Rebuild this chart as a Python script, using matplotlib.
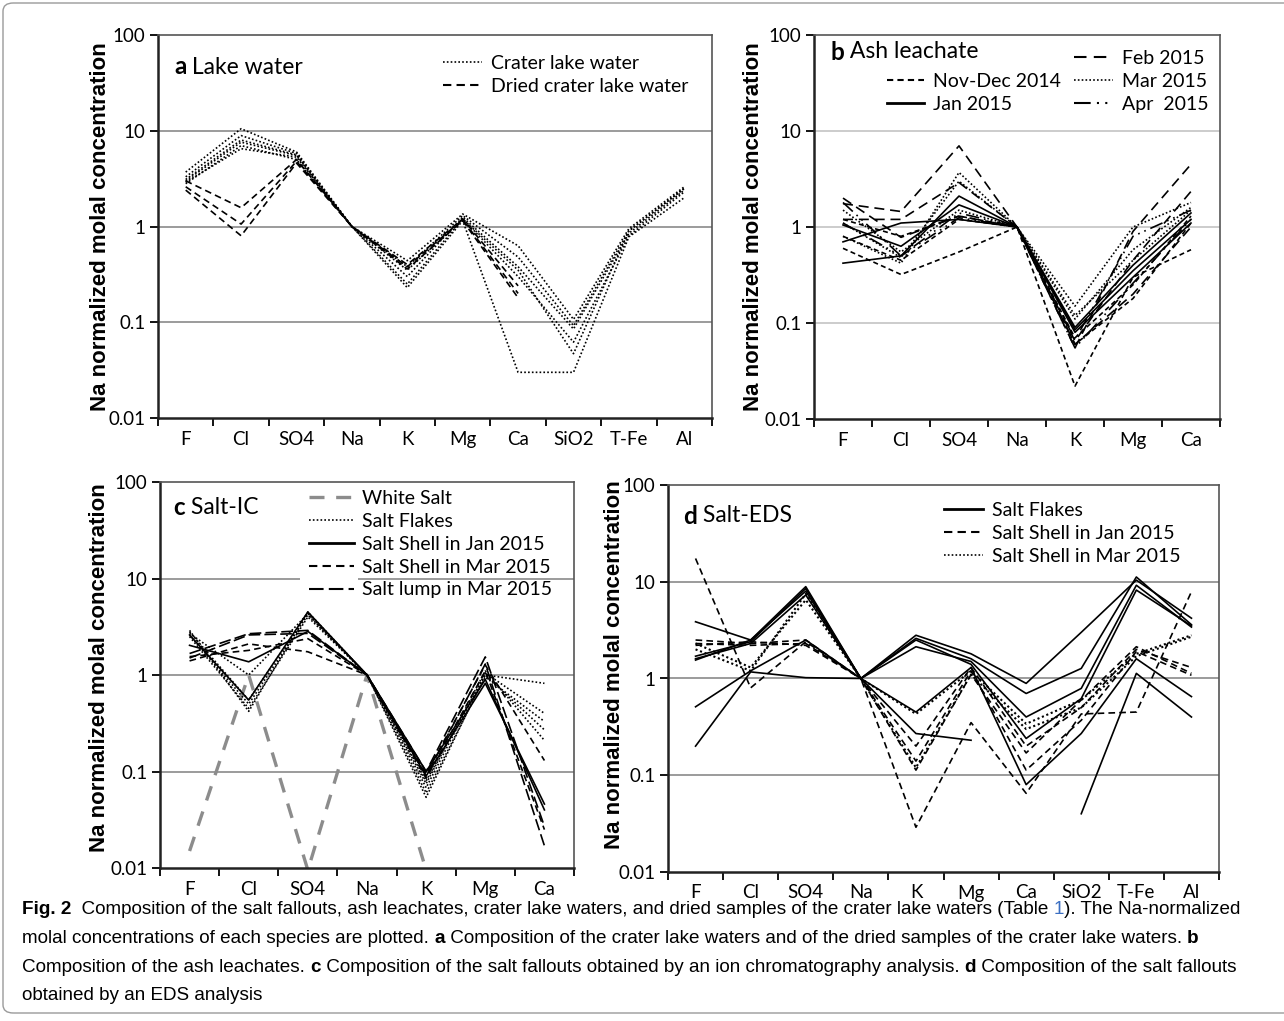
import numpy as np
import matplotlib
matplotlib.use('Agg')
import matplotlib.pyplot as plt
from matplotlib.lines import Line2D
from matplotlib.patches import FancyBboxPatch, Rectangle
from matplotlib.ticker import NullLocator

nan = np.nan

# ---------------------------------------------------------------- data
# a : lake water (10 species)
ions_a = ['F', 'Cl', 'SO4', 'Na', 'K', 'Mg', 'Ca', 'SiO2', 'T-Fe', 'Al']
crater_lake = [
    [3.7, 10.5, 6.0, 1, 0.44, 1.35, 0.63, 0.107, 0.95, 2.6],
    [3.3, 8.9, 5.8, 1, 0.38, 1.30, 0.48, 0.092, 0.90, 2.5],
    [3.0, 7.6, 5.5, 1, 0.30, 1.25, 0.38, 0.085, 0.85, 2.4],
    [2.9, 6.5, 5.3, 1, 0.25, 1.20, 0.30, 0.062, 0.80, 2.3],
    [2.8, 7.0, 5.0, 1, 0.23, 1.15, 0.03, 0.030, 0.78, 2.0],
    [3.1, 8.0, 5.6, 1, 0.35, 1.20, 0.35, 0.047, 0.90, 2.5],
]
dried_lake = [
    [3.0, 1.57, 5.0, 1, 0.40, 1.20, 0.24, nan, nan, nan],
    [2.6, 1.06, 4.8, 1, 0.38, 1.18, 0.20, nan, nan, nan],
    [2.4, 0.80, 4.6, 1, 0.36, 1.15, 0.18, nan, nan, nan],
]

# b : ash leachate (7 species)
ions_b = ['F', 'Cl', 'SO4', 'Na', 'K', 'Mg', 'Ca']
ash_novdec = [
    [0.60, 0.32, 0.55, 1, 0.022, 0.30, 0.58],
    [1.20, 0.80, 1.30, 1, 0.060, 0.18, 1.10],
    [0.80, 0.45, 1.20, 1, 0.070, 0.25, 1.30],
]
ash_jan = [
    [0.42, 0.50, 2.10, 1, 0.090, 0.40, 1.40],
    [0.70, 1.10, 1.20, 1, 0.085, 0.35, 1.20],
    [1.05, 0.63, 1.70, 1, 0.080, 0.30, 1.10],
]
ash_feb = [
    [1.75, 1.45, 7.00, 1, 0.055, 0.90, 4.50],
    [1.20, 1.20, 2.90, 1, 0.065, 0.45, 2.35],
    [2.00, 0.78, 1.30, 1, 0.060, 0.20, 1.00],
]
ash_mar = [
    [0.80, 0.42, 3.70, 1, 0.150, 1.00, 1.80],
    [1.10, 0.48, 3.00, 1, 0.110, 0.58, 1.60],
    [1.50, 0.55, 1.50, 1, 0.120, 0.45, 1.50],
]
ash_apr = [
    [1.80, 0.50, 1.40, 1, 0.067, 0.80, 1.50],
    [1.10, 0.50, 1.25, 1, 0.055, 0.26, 1.20],
]

# c : salt, ion chromatography (7 species)
ions_c = ['F', 'Cl', 'SO4', 'Na', 'K', 'Mg', 'Ca']
white_salt = [[0.015, 1.0, 0.0095, 1, 0.0095, nan, nan]]
ic_flakes = [
    [2.9, 0.42, 4.5, 1, 0.054, 1.00, 0.82],
    [2.7, 1.00, 4.3, 1, 0.068, 1.05, 0.40],
    [2.8, 0.55, 4.4, 1, 0.060, 0.95, 0.33],
    [2.6, 0.50, 4.2, 1, 0.075, 1.10, 0.21],
    [2.5, 0.45, 4.0, 1, 0.080, 1.00, 0.27],
]
ic_shell_jan = [
    [2.03, 1.37, 2.83, 1, 0.090, 0.82, 0.046],
    [2.60, 0.55, 4.50, 1, 0.100, 0.90, 0.040],
]
ic_shell_mar = [
    [1.40, 2.10, 1.74, 1, 0.095, 1.27, 0.130],
    [1.55, 1.80, 2.38, 1, 0.085, 1.10, 0.025],
]
ic_lump_mar = [
    [1.67, 2.68, 2.90, 1, 0.100, 1.54, 0.027],
    [1.50, 2.60, 2.70, 1, 0.090, 1.30, 0.017],
]

# d : salt, EDS (10 species)
ions_d = ['F', 'Cl', 'SO4', 'Na', 'K', 'Mg', 'Ca', 'SiO2', 'T-Fe', 'Al']
eds_flakes = [
    [1.55, 2.5, 8.9, 1, 2.80, 1.80, 0.89, 3.00, 10.4, 4.2],
    [1.70, 2.4, 8.5, 1, 2.60, 1.60, 0.70, 1.27, 11.2, 3.6],
    [1.60, 2.3, 7.3, 1, 2.13, 1.50, 0.40, 0.79, 9.2, 3.4],
    [3.86, 2.5, 8.0, 1, 2.50, 1.40, 0.24, 0.62, 8.2, 3.5],
    [0.51, 1.2, 2.5, 1, 0.45, 1.30, 0.08, 0.27, 1.6, 0.65],
    [0.20, 1.17, 1.02, 1, 0.27, 0.23, nan, 0.04, 1.13, 0.40],
]
eds_shell_jan = [
    [17.4, 0.80, 2.4, 1, 0.029, 0.35, 0.065, 0.43, 0.45, 7.9],
    [2.5, 2.3, 2.5, 1, 0.113, 1.10, 0.17, 0.60, 2.13, 1.13],
    [2.3, 2.2, 2.3, 1, 0.140, 1.20, 0.113, 0.37, 1.90, 1.08],
    [2.2, 2.4, 2.2, 1, 0.200, 1.30, 0.20, 0.50, 2.00, 1.30],
]
eds_shell_mar = [
    [2.0, 1.2, 7.5, 1, 0.43, 1.2, 0.34, 0.60, 1.8, 2.8],
    [2.3, 1.3, 6.5, 1, 0.12, 1.1, 0.30, 0.50, 1.7, 2.7],
]

# ---------------------------------------------------------------- styles
DOT = (0, (1, 1.3))
DASH = (0, (4, 2.5))
SHORT = (0, (3, 2))
LONG = (0, (6, 3.5))
DDOT = (0, (8, 3, 1, 3, 1, 3))

W, H = 1284, 1021
fig = plt.figure(figsize=(W / 100, H / 100), dpi=100)
plt.rcParams['font.family'] = ['Lato', 'DejaVu Sans']


def px(x, y):
    return (x / W, 1 - y / H)


def axes_px(l, r, t, b):
    return fig.add_axes([l / W, 1 - b / H, (r - l) / W, (b - t) / H])


def style_axes(ax, labels, grid_color, label_right, label_y=0.5):
    n = len(labels)
    ax.set_yscale('log')
    ax.set_ylim(0.01, 100)
    ax.set_xlim(0, n)
    ax.set_yticks([0.01, 0.1, 1, 10, 100])
    ax.set_yticklabels(['0.01', '0.1', '1', '10', '100'])
    ax.yaxis.set_minor_locator(NullLocator())
    ax.set_xticks(np.arange(n + 1))
    ax.set_xticklabels([])
    ax.set_xticks(np.arange(n) + 0.5, minor=True)
    ax.set_xticklabels(labels, minor=True)
    ax.tick_params(axis='x', which='minor', length=0, pad=9, labelsize=13.5)
    ax.tick_params(axis='x', which='major', length=6, width=1.3, direction='out')
    ax.tick_params(axis='y', length=6, width=1.3, direction='out', labelsize=13.5, pad=3)
    for g in [0.1, 1, 10]:
        ax.axhline(g, color=grid_color, lw=1.2, zorder=0)
    for s in ['left', 'bottom']:
        ax.spines[s].set_linewidth(1.8)
        ax.spines[s].set_color('#222222')
    for s in ['top', 'right']:
        ax.spines[s].set_linewidth(1.2)
        ax.spines[s].set_color('#555555')
    ax.set_ylabel('Na normalized molal concentration', fontsize=16, fontweight='bold',
                  family='Liberation Sans')
    ax.yaxis.set_label_coords(label_right, label_y)


def draw(ax, rows, ls, color='black', lw=1.2):
    x = np.arange(len(rows[0])) + 0.5
    for r in rows:
        ax.plot(x, r, color=color, lw=lw, linestyle=ls, clip_on=True)


def panel_title(x, y, letter, name):
    t = fig.text(*px(x, y), letter, fontsize=17.5, fontweight='bold', va='center')
    plt.annotate(' ' + name, xy=(1, 0.5), xycoords=t, va='center', ha='left', fontsize=16.5,
                 annotation_clip=False)


def legend(ax, items, x, y, hl=2.0):
    handles = [Line2D([], [], color=c, lw=lw, linestyle=ls) for _, ls, c, lw in items]
    leg = ax.legend(handles, [i[0] for i in items], loc='upper left',
                    bbox_to_anchor=px(x, y), bbox_transform=fig.transFigure,
                    frameon=False, borderpad=0, borderaxespad=0, handlelength=hl,
                    handletextpad=0.45, labelspacing=0.30, fontsize=14)
    return leg


# ---------------------------------------------------------------- a
ax_a = axes_px(158, 712, 35, 418)
style_axes(ax_a, ions_a, '#8a8a8a', (111 - 158) / 554)
draw(ax_a, crater_lake, DOT)
draw(ax_a, dried_lake, DASH)
legend(ax_a, [('Crater lake water', DOT, 'black', 1.2),
              ('Dried crater lake water', DASH, 'black', 1.5)], 443, 55)
panel_title(174, 67, 'a', 'Lake water')

# ---------------------------------------------------------------- b
ax_b = axes_px(814, 1220, 35, 419)
style_axes(ax_b, ions_b, '#c4c4c4', (764 - 814) / 406)
draw(ax_b, ash_novdec, SHORT)
draw(ax_b, ash_jan, '-')
draw(ax_b, ash_feb, LONG)
draw(ax_b, ash_mar, DOT)
draw(ax_b, ash_apr, DDOT)
leg_b = legend(ax_b, [('Feb 2015', LONG, 'black', 1.5),
                      ('Mar 2015', DOT, 'black', 1.2),
                      ('Apr  2015', DDOT, 'black', 1.5)], 1074, 50)
ax_b.add_artist(leg_b)
legend(ax_b, [('Nov-Dec 2014', SHORT, 'black', 1.5),
              ('Jan 2015', '-', 'black', 2.0)], 887, 73, hl=1.9)
panel_title(830, 52, 'b', 'Ash leachate')

# ---------------------------------------------------------------- c
ax_c = axes_px(160, 574, 482, 868)
style_axes(ax_c, ions_c, '#8a8a8a', (110 - 160) / 414, 0.52)
draw(ax_c, white_salt, (0, (4.5, 3.5)), color='#8c8c8c', lw=2.4)
draw(ax_c, ic_flakes, DOT)
draw(ax_c, ic_shell_jan, '-')
draw(ax_c, ic_shell_mar, DASH)
draw(ax_c, ic_lump_mar, (0, (7, 2.5)))
ax_c.add_patch(Rectangle(px(300, 600), (358 - 300) / W, 115 / H, transform=fig.transFigure,
                         facecolor='white', edgecolor='none', zorder=1))
legend(ax_c, [('White Salt', (0, (4.5, 3.5)), '#8c8c8c', 2.4),
              ('Salt Flakes', DOT, 'black', 1.2),
              ('Salt Shell in Jan 2015', '-', 'black', 2.0),
              ('Salt Shell in Mar 2015', DASH, 'black', 1.5),
              ('Salt lump in Mar 2015', (0, (7, 2.5)), 'black', 1.5)], 309, 490, hl=2.3)
panel_title(173, 507, 'c', 'Salt-IC')

# ---------------------------------------------------------------- d
ax_d = axes_px(668, 1219, 485, 872)
style_axes(ax_d, ions_d, '#8a8a8a', (625 - 668) / 551, 0.535)
draw(ax_d, eds_flakes, '-')
draw(ax_d, eds_shell_jan, DASH)
draw(ax_d, eds_shell_mar, DOT, lw=1.5)
legend(ax_d, [('Salt Flakes', '-', 'black', 2.0),
              ('Salt Shell in Jan 2015', DASH, 'black', 1.5),
              ('Salt Shell in Mar 2015', DOT, 'black', 1.2)], 944, 502)
panel_title(683, 516, 'd', 'Salt-EDS')

# ---------------------------------------------------------------- caption
CAP = ['Liberation Sans Narrow', 'Liberation Sans', 'DejaVu Sans']
CAP_SIZE = 13.6


def caption_line(x, y, parts):
    prev = fig.text(*px(x, y), parts[0][0], fontsize=CAP_SIZE, family=CAP,
                    fontweight='bold' if parts[0][1] else 'normal', va='bottom',
                    color=parts[0][2])
    for txt, bold, col in parts[1:]:
        prev = plt.annotate(txt, xy=(1, 0), xycoords=prev, va='bottom', ha='left',
                            fontsize=CAP_SIZE, family=CAP, color=col,
                            fontweight='bold' if bold else 'normal', annotation_clip=False)


k = 'black'
caption_line(22, 918, [('Fig. 2', True, k),
                       ('  Composition of the salt fallouts, ash leachates, crater lake waters, '
                        'and dried samples of the crater lake waters (Table ', False, k),
                       ('1', False, '#3b6fc2'),
                       ('). The Na-normalized', False, k)])
caption_line(22, 947, [('molal concentrations of each species are plotted. ', False, k),
                       ('a', True, k),
                       (' Composition of the crater lake waters and of the dried samples of '
                        'the crater lake waters. ', False, k),
                       ('b', True, k)])
caption_line(22, 976, [('Composition of the ash leachates. ', False, k),
                       ('c', True, k),
                       (' Composition of the salt fallouts obtained by an ion chromatography '
                        'analysis. ', False, k),
                       ('d', True, k),
                       (' Composition of the salt fallouts', False, k)])
caption_line(22, 1004, [('obtained by an EDS analysis', False, k)])

fig.patches.append(FancyBboxPatch(px(3, 1013), 1300 / W, 1010 / H,
                                  boxstyle='round,pad=0,rounding_size=0.008',
                                  transform=fig.transFigure, facecolor='none',
                                  edgecolor='#9a9a9a', lw=1.0))

fig.savefig('out.png', dpi=100)
